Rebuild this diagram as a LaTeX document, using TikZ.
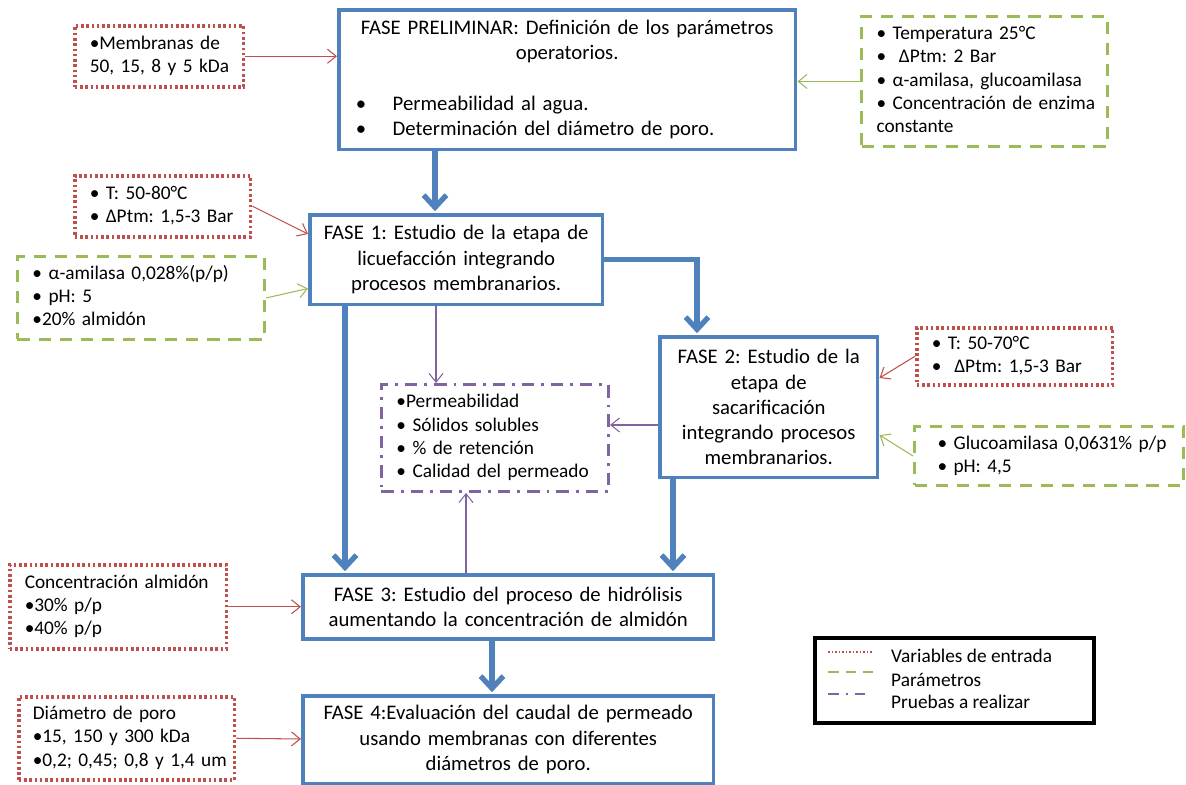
\documentclass[tikz,border=0pt]{standalone}
\usepackage{fontspec}
\setmainfont{Carlito}
\usetikzlibrary{arrows.meta,calc}
\frenchspacing

\definecolor{azul}{HTML}{4F81BD}
\definecolor{rojo}{HTML}{C0504D}
\definecolor{verde}{HTML}{9BBB59}
\definecolor{morado}{HTML}{8064A2}

\newcommand{\lineas}[1]{\begin{tabular}{@{}l@{}}#1\end{tabular}}
\newcommand{\punto}[1]{\makebox[8.46cm][l]{\makebox[0.74cm][l]{•}#1}}

\tikzset{
  fase/.style={draw=azul, line width=2pt, align=center, inner sep=0pt,
    anchor=north west, font=\fontsize{11.8}{14.4}\selectfont},
  caja/.style={anchor=north west, align=left, inner xsep=0.3cm, inner ysep=0pt,
    font=\fontsize{11}{13.2}\selectfont},
  entrada/.style={caja, draw=rojo, line width=2pt, dash pattern=on 1.5pt off 1.5pt},
  param/.style={caja, draw=verde, line width=1.7pt, dash pattern=on 7pt off 5pt},
  prueba/.style={caja, draw=morado, line width=1.7pt, dash pattern=on 7pt off 4pt on 1.6pt off 4pt},
  leyenda/.style={draw, line width=2.2pt, anchor=north west, inner sep=0pt},
  flujo/.style={draw=azul, line width=3pt, shorten >=1pt, -{Straight Barb[length=7pt,width=13pt]}},
  flecha/.style={line width=0.6pt, -{Straight Barb[length=5pt,width=8pt]}},
}

\begin{document}
\begin{tikzpicture}[x=0.02cm, y=-0.02cm]

  % Definitions
  \useasboundingbox (0,0) rectangle (1186,784);

  % Fases
  \node[fase, minimum width=9.14cm, minimum height=2.8cm, text width=8.46cm] (pre) at (337,8)
    {FASE PRELIMINAR: Definición de los parámetros\\ operatorios.\\ \mbox{}\\
     \punto{Permeabilidad al agua.}\\
     \punto{Determinación del diámetro de poro.}};
  \node[fase, minimum width=5.86cm, minimum height=1.8cm, text width=5.6cm] (f1) at (308,213)
    {FASE 1: Estudio de la etapa de\\ licuefacción integrando\\ procesos membranarios.};
  \node[fase, minimum width=4.36cm, minimum height=2.82cm, text width=4.2cm] (f2) at (658,335)
    {FASE 2: Estudio de la\\ etapa de\\ sacarificación\\ integrando procesos\\ membranarios.};
  \node[fase, minimum width=8.22cm, minimum height=1.28cm, text width=8cm] (f3) at (301,573)
    {FASE 3: Estudio del proceso de hidrólisis\\ aumentando la concentración de almidón};
  \node[fase, minimum width=8.22cm, minimum height=1.76cm, text width=8cm] (f4) at (301,694)
    {FASE 4:Evaluación del caudal de permeado\\ usando membranas con diferentes\\ diámetros de poro.};

  % Variables, parametros y pruebas
  \node[entrada, minimum width=3.38cm, minimum height=1.22cm, text width=2.78cm] (memb) at (73,24)
    {\lineas{•Membranas de\\ 50, 15, 8 y 5 kDa}};
  \node[entrada, minimum width=3.52cm, minimum height=1.22cm, text width=2.92cm] (t1) at (73,174)
    {\lineas{• T: 50-80°C\\ • ΔPtm: 1,5-3 Bar}};
  \node[param, minimum width=4.94cm, minimum height=1.66cm, text width=4.34cm] (a1) at (16,255)
    {\lineas{• α-amilasa 0,028\%(p/p)\\ • pH: 5\\ •20\% almidón}};
  \node[param, minimum width=4.92cm, minimum height=2.6cm, text width=4.32cm] (temp) at (860,15)
    {\lineas{• Temperatura 25°C\\ •\ \ ΔPtm: 2 Bar\\ • α-amilasa, glucoamilasa\\ • Concentración de enzima\\ constante}};
  \node[entrada, minimum width=3.92cm, minimum height=1.14cm, text width=3.32cm] (t2) at (915,326)
    {\lineas{• T: 50-70°C\\ •\ \ ΔPtm: 1,5-3 Bar}};
  \node[param, inner xsep=0.46cm, minimum width=5.38cm, minimum height=1.18cm, text width=4.46cm] (glu) at (913,425)
    {\lineas{• Glucoamilasa 0,0631\% p/p\\ • pH: 4,5}};
  \node[entrada, minimum width=4.34cm, minimum height=1.68cm, text width=3.74cm] (conc) at (8,563)
    {\lineas{Concentración almidón\\ •30\% p/p\\ •40\% p/p}};
  \node[entrada, inner xsep=0.28cm, minimum width=4.32cm, minimum height=1.66cm, text width=3.76cm] (diam) at (17,695)
    {\lineas{Diámetro de poro\\ •15, 150 y 300 kDa\\ •0,2; 0,45; 0,8 y 1,4 um}};
  \node[prueba, minimum width=4.54cm, minimum height=2.14cm, text width=3.94cm] (pru) at (380,383)
    {\lineas{•Permeabilidad\\ • Sólidos solubles\\ • \% de retención\\ • Calidad del permeado}};

  % Leyenda
  \node[leyenda, minimum width=5.58cm, minimum height=1.7cm] (ley) at (813,636) {};
  \node[anchor=west, font=\fontsize{11}{13.2}\selectfont] (ley1) at (885,656) {Variables de entrada};
  \node[anchor=west, font=\fontsize{11}{13.2}\selectfont] (ley2) at (885,680) {Parámetros};
  \node[anchor=west, font=\fontsize{11}{13.2}\selectfont] (ley3) at (885,702) {Pruebas a realizar};
  \draw[rojo, line width=0.6pt, dash pattern=on 1pt off 1pt] (828,652) -- (873,652);
  \draw[verde, line width=1.6pt, dash pattern=on 6pt off 4pt] (828,672) -- (873,672);
  \draw[morado, line width=1.6pt, dash pattern=on 6pt off 4pt on 1.2pt off 4pt] (828,694) -- (867,694);

  % Draw commands
  \draw[flujo] ($(pre.south west)+(98,0)$) -- ($(f1.north west)+(127,0)$);
  \draw[flujo] (f1.east) -| ($(f2.north west)+(39,0)$);
  \draw[flujo] ($(f1.south west)+(37,0)$) -- ($(f3.north west)+(44,0)$);
  \draw[flujo] ($(f2.south west)+(15,0)$) -- ($(f3.north west)+(372,0)$);
  \draw[flujo] ($(f3.south west)+(191,0)$) -- ($(f4.north west)+(191,0)$);

  \draw[flecha, rojo] (memb.east) -- (memb.east -| pre.west);
  \draw[flecha, verde] (temp.west) -- (temp.west -| pre.east);
  \draw[flecha, rojo] (t1.east) -- ($(f1.north west)+(0,21)$);
  \draw[flecha, verde] (a1.east) -- ($(f1.south west)+(0,-18)$);
  \draw[flecha, rojo] (t2.west) -- ($(f2.north east)+(0,43)$);
  \draw[flecha, verde] (glu.west) -- ($(f2.north east)+(0,100)$);
  \draw[flecha, rojo] (conc.east) -- (conc.east -| f3.west);
  \draw[flecha, rojo] (diam.east) -- ($(f4.north west)+(0,45)$);

  \coordinate (p2) at ($(f2.north west)+(0,90)$);
  \draw[flecha, morado] ($(f1.south west)+(128,0)$) -- ($(pru.north west)+(56,0)$);
  \draw[flecha, morado] (p2) -- (p2 -| pru.east);
  \draw[flecha, morado] ($(f3.north west)+(165,0)$) -- ($(pru.south west)+(86,0)$);

\end{tikzpicture}
\end{document}
